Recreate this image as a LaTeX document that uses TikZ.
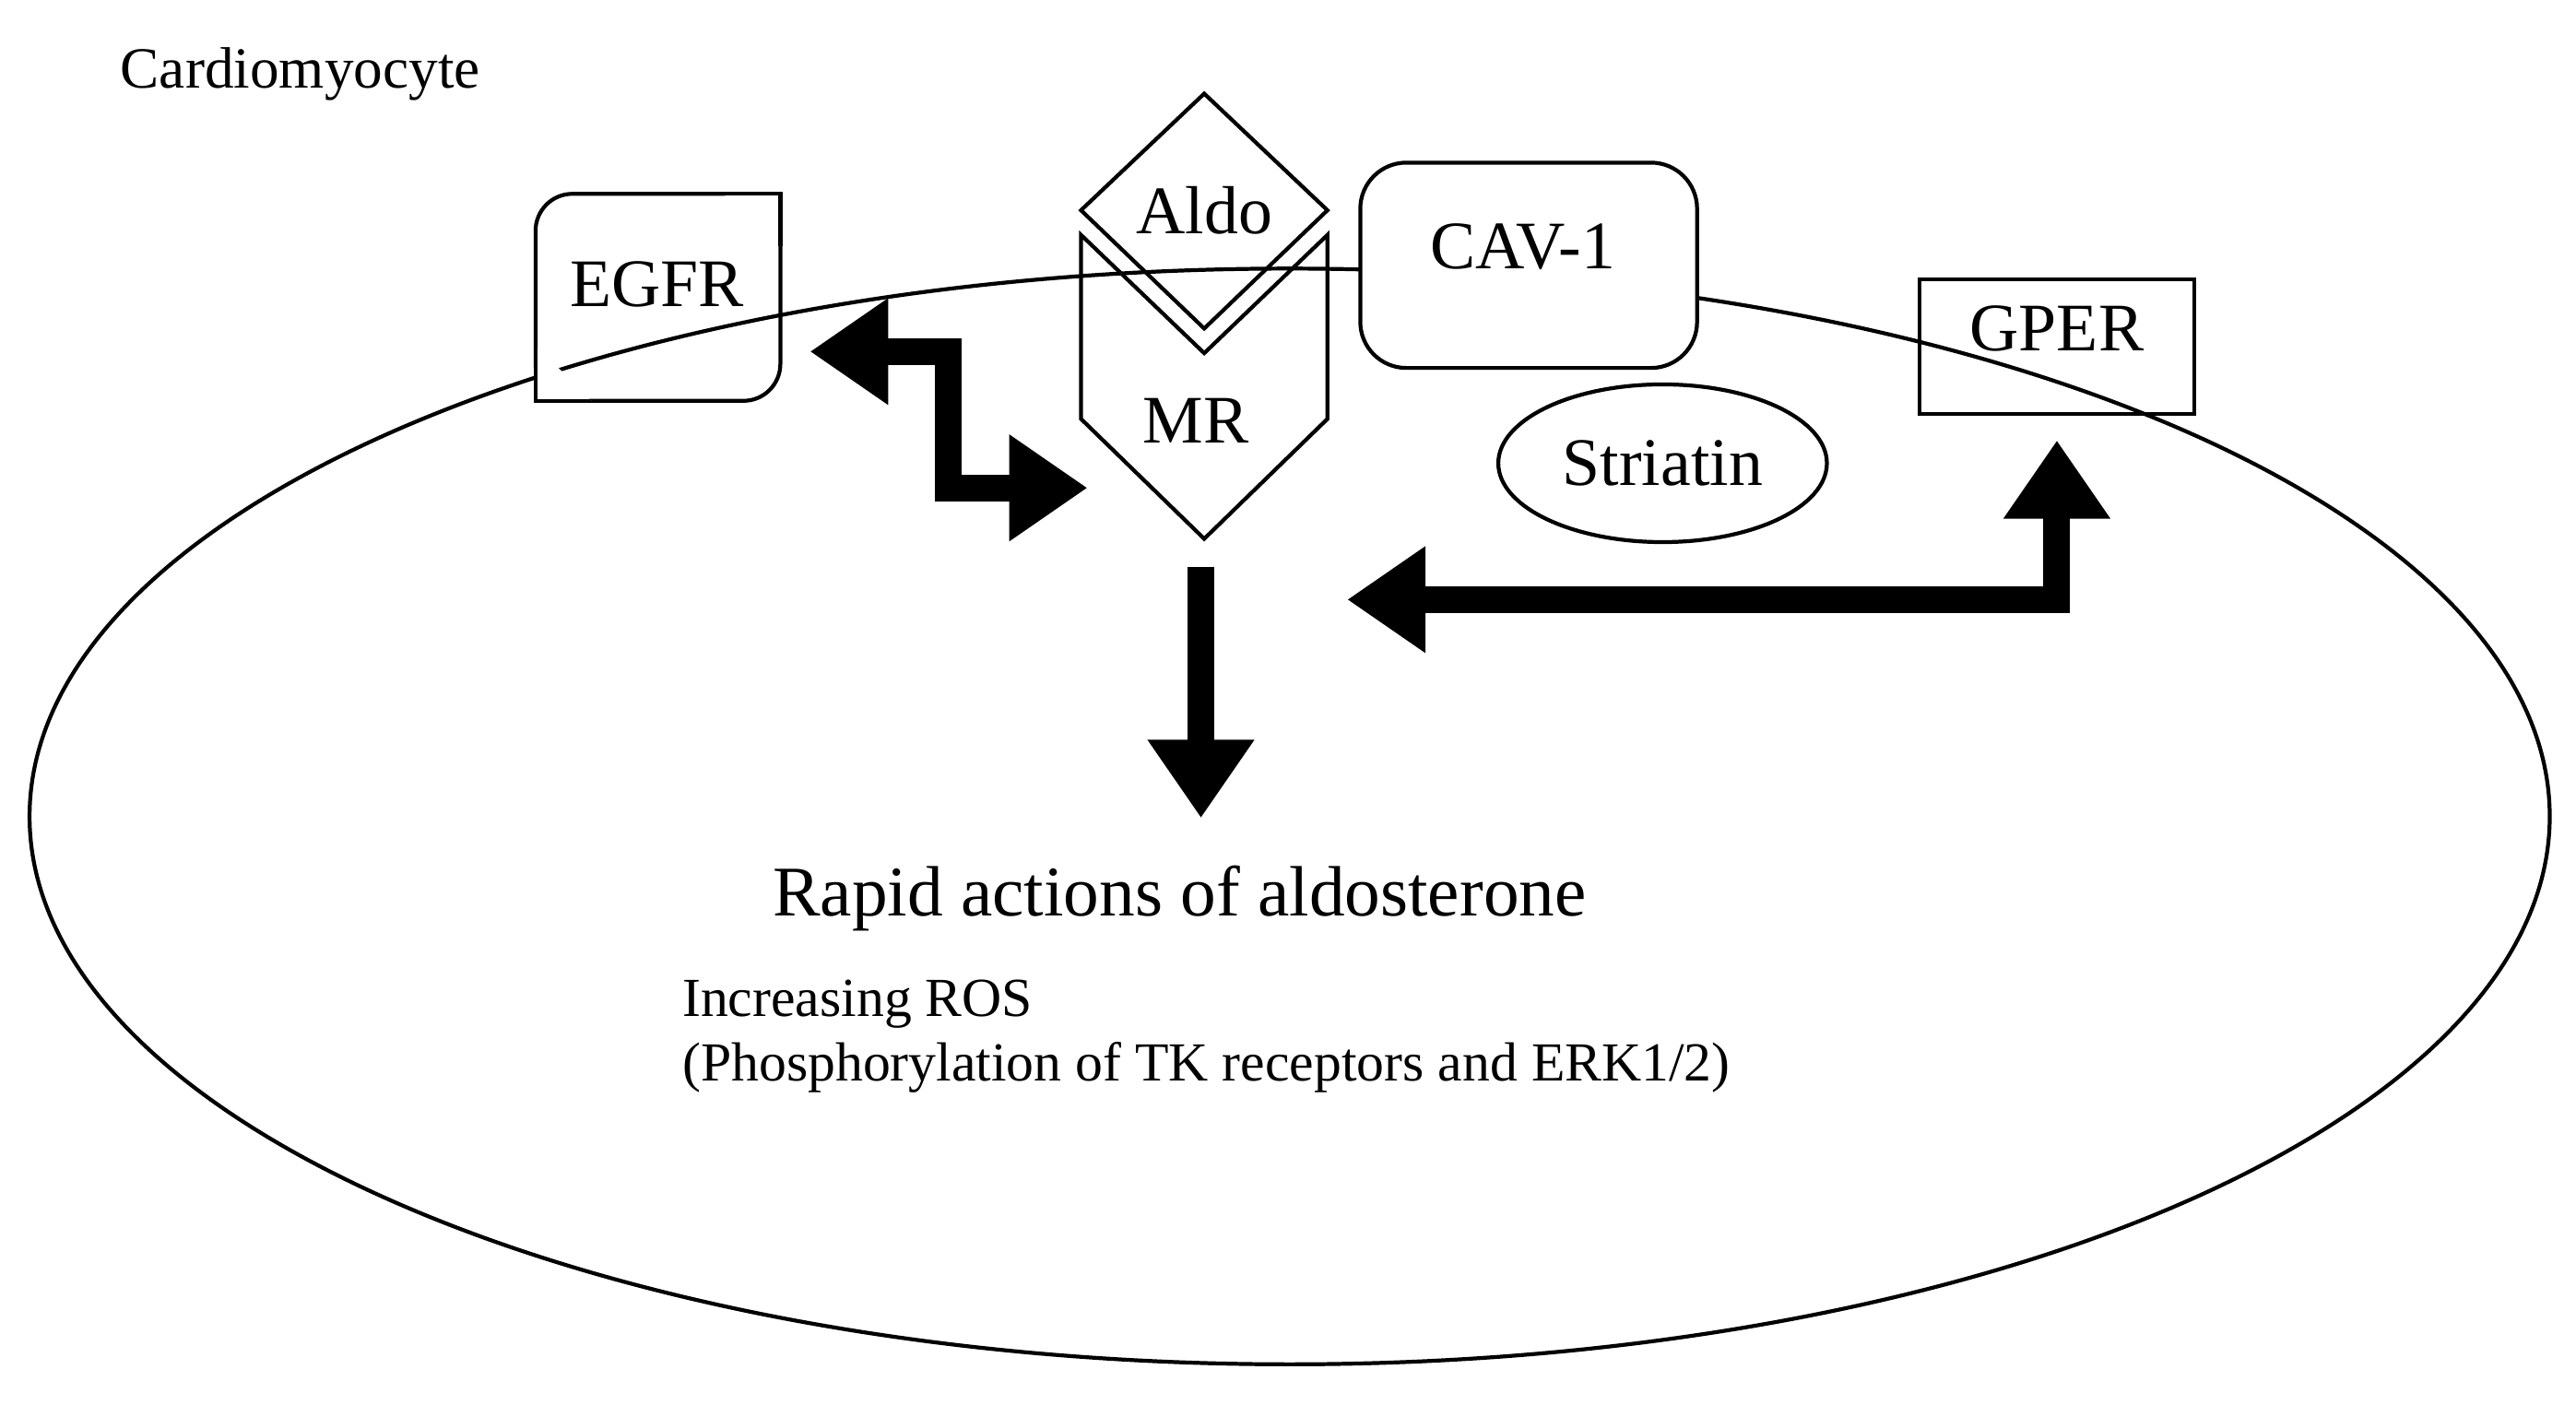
\documentclass[tikz,border=0pt]{standalone}
\usepackage{fontspec}
\setmainfont{Liberation Serif}
\usetikzlibrary{shapes.geometric, arrows.meta, positioning}
\tikzstyle{txt} = [font=\fontsize{21}{25}\selectfont, inner sep=0pt]
\tikzstyle{bigarrow} = [line width=0.29cm, {Triangle[length=0.85cm, width=1.1cm]}-{Triangle[length=0.85cm, width=1.1cm]}]
\tikzstyle{onearrow} = [line width=0.29cm, -{Triangle[length=0.85cm, width=1.1cm]}]
\tikzstyle{outline} = [draw=black, line width=1.2pt]

\begin{document}
\begin{tikzpicture}[x=0.01782cm, y=-0.01782cm]
    \useasboundingbox (0,0) rectangle (1568,855);

    % cell
    \node (cell) [ellipse, outline, minimum width=1534*0.01782cm, minimum height=667*0.01782cm] at (785,497) {};
    \node (title) [txt, anchor=west, font=\fontsize{18}{22}\selectfont] at (73,45) {Cardiomyocyte};

    % receptors
    \draw [outline, rounded corners=0.4cm] (326,244) -- (326,118) -- (475,118) -- (475,244) -- cycle;
    \draw [outline, fill=white] (475,150) -- (475,118) -- (440,118);
    \draw [outline, fill=white] (326,210) -- (326,244) -- (360,244);
    \node (egfr) [txt] at (400,173) {EGFR};

    \draw [outline] (733,57) -- (808,128) -- (733,200) -- (658,128) -- cycle;
    \node (aldo) [txt] at (733,128) {Aldo};
    \draw [outline] (658,143) -- (733,215) -- (808,143) -- (808,255) -- (733,328) -- (658,255) -- cycle;
    \node (mr) [txt] at (728,256) {MR};

    \draw [outline, rounded corners=0.5cm, fill=white] (828,99) rectangle (1033,224);
    \node (cav) [txt] at (927,150) {CAV-1};
    \node (striatin) [ellipse, outline, minimum width=200*0.01782cm, minimum height=96*0.01782cm, txt] at (1012,282) {Striatin};
    \node (gper) [rectangle, outline, minimum width=167*0.01782cm, minimum height=82*0.01782cm] at (1252,211) {};
    \node (gpertext) [txt] at (1252,200) {GPER};

    % arrows
    \coordinate (e1) at (493,214);
    \coordinate (e2) at (662,297);
    \coordinate (d1) at (731,345);
    \coordinate (d2) at (731,498);
    \coordinate (g1) at (820,365);
    \coordinate (g2) at (1252,268);
    \draw [bigarrow] (e1) -| (577,297) -- (e2);
    \draw [onearrow] (d1) -- (d2);
    \draw [bigarrow] (g1) -| (g2);

    % texts
    \node (rapid) [txt, font=\fontsize{22}{26}\selectfont] at (718,547) {Rapid actions of aldosterone};
    \node (ros) [txt, anchor=west, font=\fontsize{17}{21}\selectfont] at (415,611) {Increasing ROS};
    \node (phos) [txt, anchor=west, font=\fontsize{17}{21}\selectfont] at (415,650) {(Phosphorylation of TK receptors and ERK1/2)};
\end{tikzpicture}
\end{document}
